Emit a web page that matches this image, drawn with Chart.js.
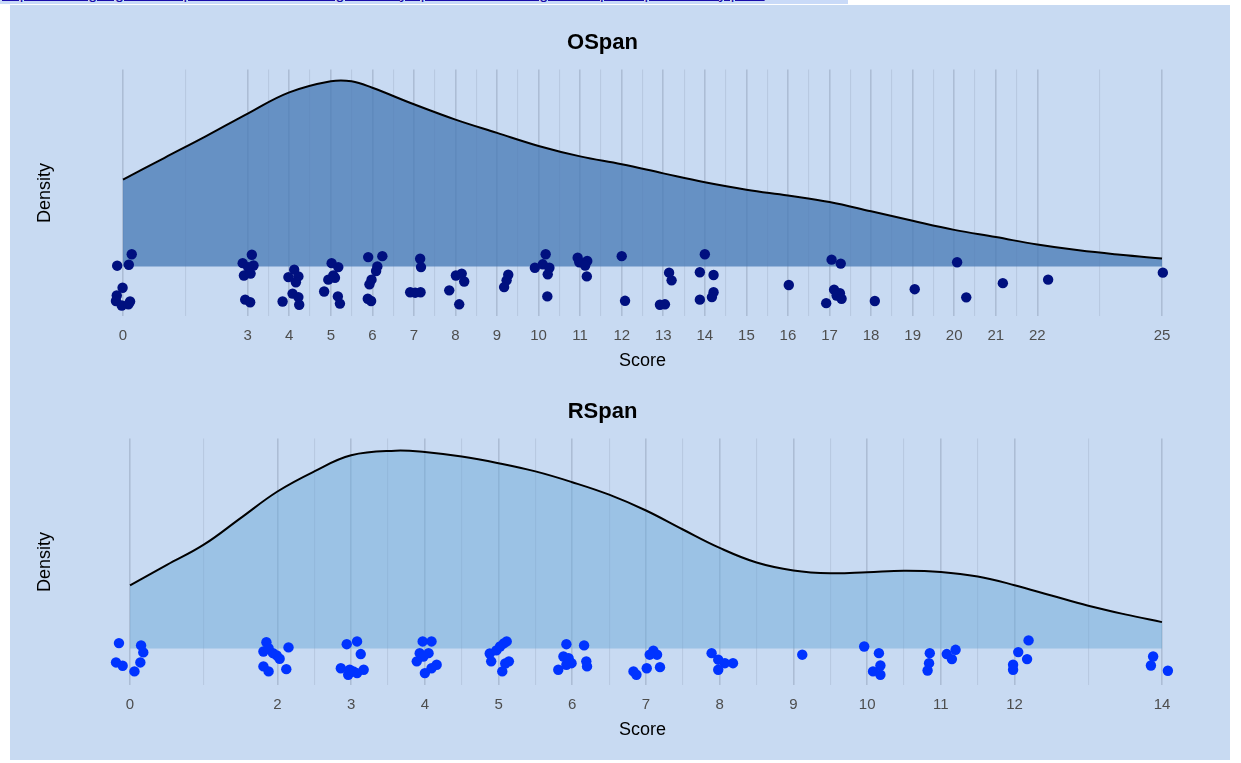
<!DOCTYPE html>
<html>
<head>
<meta charset="utf-8">
<script src="https://cdn.jsdelivr.net/npm/chart.js@4.4.1/dist/chart.umd.min.js"></script>
<style>
  html, body { margin: 0; padding: 0; background: #ffffff; }
  body { width: 1241px; height: 763px; position: relative; overflow: hidden; font-family: "Liberation Sans", Arial, sans-serif; }
  .topLink { position: absolute; left: 0; top: 0; width: 848px; height: 4px; background: #c9daf8; overflow: hidden; }
  .topLink span { position: absolute; left: 2px; top: -15px; font-size: 16px; color: #1a0dab; white-space: nowrap; text-decoration: underline; }
  .panel { position: absolute; left: 10px; top: 5px; width: 1220px; height: 755px; background: #c8daf2; }
  canvas { position: absolute; left: 0; }
</style>
</head>
<body>
<div class="topLink"><span>https://docs.google.com/spreadsheets/d/working-memory-span-scores/edit#gid=0 ospan rspan density plots</span></div>
<div class="panel">
  <canvas id="ospan" width="1220" height="375" style="top:0px"></canvas>
  <canvas id="rspan" width="1220" height="375" style="top:369px"></canvas>
</div>
<script>
// --- OSpan: density curve ---
const osGrid    = [0, 1, 2, 3, 4, 5, 5.5, 6, 7, 8, 9, 10, 11, 12, 13, 14, 15, 16, 17, 18, 19, 20, 21, 22, 23, 24, 25];
const osDensity = [0.0373, 0.0467, 0.0560, 0.0657, 0.0748, 0.0796, 0.0796, 0.0768, 0.0697, 0.0631, 0.0574, 0.0518, 0.0473,
                   0.0439, 0.0400, 0.0362, 0.0330, 0.0305, 0.0277, 0.0237, 0.0196, 0.0157, 0.0126, 0.0094, 0.0069, 0.0050, 0.0034];
const osTicks   = [0, 3, 4, 5, 6, 7, 8, 9, 10, 11, 12, 13, 14, 15, 16, 17, 18, 19, 20, 21, 22, 25];

// jittered raw scores (x) and vertical jitter (y) below/around the baseline
const osPointX = [0.21, 0.14, -0.14, -0.01, -0.15, -0.17, -0.03, 0.17, 0.13,
  3.10, 2.88, 3.14, 3.01, 2.91, 3.07, 2.94, 3.06,
  4.12, 3.98, 4.22, 4.16, 4.08, 4.22, 3.84, 4.24,
  5.02, 5.18, 5.06, 4.94, 5.10, 4.84, 5.17, 5.22,
  5.90, 6.24, 6.12, 6.09, 5.98, 5.93, 5.89, 5.97,
  7.15, 7.17, 6.91, 7.16, 7.03,
  8.01, 8.15, 8.21, 7.85, 8.09,
  9.27, 9.23, 9.17,
  10.17, 9.91, 10.10, 10.26, 10.22, 10.21,
  10.94, 10.98, 11.17, 11.12, 11.16,
  12.00, 12.08,
  13.14, 13.20, 12.92, 13.04,
  14.00, 13.88, 14.21, 14.21, 14.17, 13.88,
  16.02,
  17.05, 17.27, 17.11, 17.25, 17.17, 17.29, 16.92,
  18.09, 19.05, 20.07, 20.29, 21.17, 22.26, 25.02];
const osPointY = [0.0052, 0.0007, 0.0003, -0.0092, -0.0125, -0.0149, -0.0168, -0.0151, -0.0163,
  0.0050, 0.0014, 0.0004, -0.0003, -0.0039, -0.0031, -0.0143, -0.0154,
  -0.0014, -0.0046, -0.0043, -0.0068, -0.0117, -0.0132, -0.0151, -0.0165,
  0.0014, -0.0003, -0.0039, -0.0057, -0.0049, -0.0108, -0.0129, -0.0160,
  0.0040, 0.0044, 0.0000, -0.0020, -0.0057, -0.0077, -0.0139, -0.0149,
  0.0033, -0.0003, -0.0111, -0.0111, -0.0113,
  -0.0039, -0.0031, -0.0065, -0.0103, -0.0163,
  -0.0036, -0.0060, -0.0089,
  0.0052, -0.0006, 0.0009, -0.0006, -0.0034, -0.0129,
  0.0037, 0.0018, 0.0023, 0.0004, -0.0043,
  0.0044, -0.0148,
  -0.0027, -0.0060, -0.0165, -0.0163,
  0.0052, -0.0025, -0.0037, -0.0111, -0.0132, -0.0143,
  -0.0080,
  0.0029, 0.0012, -0.0100, -0.0115, -0.0125, -0.0139, -0.0158,
  -0.0149, -0.0098, 0.0018, -0.0133, -0.0072, -0.0057, -0.0027];

// --- RSpan ---
const rsGrid    = [0, 0.5, 1, 1.5, 2, 2.5, 3, 3.6, 4, 4.5, 5, 5.5, 6, 6.5, 7, 7.5, 8, 8.5, 9, 9.5, 10, 10.5, 11, 11.5, 12, 12.5, 13, 13.5, 14];
const rsDensity = [0.0414, 0.0549, 0.0682, 0.0857, 0.1032, 0.1164, 0.1270, 0.1300, 0.1291, 0.1262, 0.1218, 0.1164, 0.1093, 0.1011,
                   0.0907, 0.0782, 0.0661, 0.0565, 0.0513, 0.0494, 0.0501, 0.0511, 0.0503, 0.0473, 0.0416, 0.0348, 0.0281, 0.0224, 0.0173];
const rsTicks   = [0, 2, 3, 4, 5, 6, 7, 8, 9, 10, 11, 12, 14];

const rsPointX = [-0.15, 0.15, 0.18, -0.19, -0.10, 0.14, 0.06,
  1.85, 1.81, 1.88, 1.94, 1.99, 2.03, 2.15, 1.81, 1.88, 2.12,
  2.94, 3.08, 3.13, 2.86, 2.96, 3.03, 3.17, 3.08, 2.98,
  3.97, 4.09, 3.93, 4.05, 3.98, 3.89, 4.16, 4.00, 4.09,
  4.88, 4.97, 5.02, 5.07, 5.11, 4.90, 5.09, 5.14, 5.05,
  5.92, 6.16, 5.88, 5.95, 5.99, 5.81, 5.92, 6.19, 6.20,
  7.10, 7.15, 7.05, 7.19, 7.01, 6.83, 6.87,
  7.89, 7.98, 8.18, 8.07, 7.98,
  9.12,
  9.96, 10.16, 10.18, 10.08, 10.18,
  10.85, 10.84, 10.82, 11.08, 11.15, 11.20,
  12.19, 12.05, 12.17, 11.98, 11.98,
  13.88, 13.85, 14.08];
const rsPointY = [0.0035, 0.0020, -0.0026, -0.0092, -0.0114, -0.0092, -0.0151,
  0.0041, -0.0020, 0.0002, -0.0031, -0.0046, -0.0068, 0.0007, -0.0118, -0.0151, -0.0136,
  0.0028, 0.0046, -0.0037, -0.0130, -0.0173, -0.0151, -0.0140, -0.0162, -0.0140,
  0.0046, 0.0046, -0.0031, -0.0031, -0.0053, -0.0085, -0.0107, -0.0162, -0.0130,
  -0.0033, -0.0013, 0.0013, 0.0033, 0.0046, -0.0085, -0.0099, -0.0085, -0.0151,
  0.0028, 0.0020, -0.0053, -0.0064, -0.0097, -0.0140, -0.0107, -0.0085, -0.0118,
  -0.0015, -0.0041, -0.0041, -0.0123, -0.0130, -0.0151, -0.0173,
  -0.0031, -0.0074, -0.0097, -0.0097, -0.0140,
  -0.0041,
  0.0013, -0.0031, -0.0112, -0.0151, -0.0173,
  -0.0031, -0.0097, -0.0145, -0.0037, -0.0070, -0.0009,
  0.0053, -0.0024, -0.0070, -0.0107, -0.0140,
  -0.0053, -0.0112, -0.0147];

const FONT = "'Liberation Sans', Arial, sans-serif";

// minor breaks sit halfway between consecutive labelled breaks (ggplot style)
function withMinors(ticks){
  const out = [];
  ticks.forEach((t, i) => {
    out.push({ value: t, major: true });
    if (i < ticks.length - 1) out.push({ value: (t + ticks[i + 1]) / 2, major: false });
  });
  return out;
}

function makePanel(id, cfg){
  const ticks = withMinors(cfg.ticks);
  const majors = new Set(cfg.ticks);
  const curve = cfg.grid.map((x, i) => ({ x, y: cfg.density[i] }));
  const pts = cfg.px.map((x, i) => ({ x, y: cfg.py[i] }));

  return new Chart(document.getElementById(id), {
    type: "scatter",
    data: {
      datasets: [
        {
          data: pts,
          order: 0,
          backgroundColor: cfg.pointColor,
          borderWidth: 0,
          pointRadius: 5.2,
          pointHoverRadius: 5.2
        },
        {
          data: curve,
          order: 1,
          showLine: true,
          fill: "origin",
          backgroundColor: cfg.fillColor,
          borderColor: "#000000",
          borderWidth: 2,
          pointRadius: 0,
          tension: 0.4
        }
      ]
    },
    options: {
      responsive: false,
      animation: false,
      events: [],
      layout: { padding: { left: 0, right: 35, top: 0, bottom: 8 } },
      plugins: {
        legend: { display: false },
        tooltip: { enabled: false },
        title: {
          display: true,
          text: cfg.title,
          color: "#000000",
          font: { family: FONT, size: 22, weight: "bold" },
          padding: { top: 25, bottom: 13 }
        }
      },
      scales: {
        x: {
          type: "linear",
          min: cfg.xMin,
          max: cfg.xMax,
          afterBuildTicks: (scale) => { scale.ticks = ticks.map(t => ({ value: t.value })); },
          ticks: {
            autoSkip: false,
            maxRotation: 0,
            padding: 10,
            color: "#4d4d4d",
            font: { family: FONT, size: 15 },
            callback: (v) => majors.has(v) ? String(v) : ""
          },
          grid: {
            drawTicks: false,
            color: (ctx) => majors.has(ctx.tick && ctx.tick.value) ? "rgba(150,165,190,0.55)" : "rgba(160,175,200,0.4)",
            lineWidth: (ctx) => majors.has(ctx.tick && ctx.tick.value) ? 1.6 : 1.1
          },
          border: { display: false },
          title: {
            display: true,
            text: "Score",
            color: "#000000",
            font: { family: FONT, size: 18 },
            padding: { top: -4, bottom: 0 }
          }
        },
        y: {
          min: cfg.yMin,
          max: cfg.yMax,
          afterFit: (scale) => { scale.width = 80; },
          ticks: { display: false },
          grid: { display: false },
          border: { display: false },
          title: {
            display: true,
            text: "Density",
            color: "#000000",
            font: { family: FONT, size: 18 },
            padding: { top: 24, bottom: 0 }
          }
        }
      }
    }
  });
}

makePanel("ospan", {
  title: "OSpan",
  grid: osGrid, density: osDensity, ticks: osTicks,
  px: osPointX, py: osPointY,
  xMin: -0.794, xMax: 25.794,
  yMin: -0.0215, yMax: 0.0847,
  fillColor: "rgba(70,120,180,0.75)",
  pointColor: "#00107f"
});

makePanel("rspan", {
  title: "RSpan",
  grid: rsGrid, density: rsDensity, ticks: rsTicks,
  px: rsPointX, py: rsPointY,
  xMin: -0.543, xMax: 14.448,
  yMin: -0.0243, yMax: 0.1381,
  fillColor: "rgba(110,170,215,0.5)",
  pointColor: "#0033ff"
});
</script>
</body>
</html>
